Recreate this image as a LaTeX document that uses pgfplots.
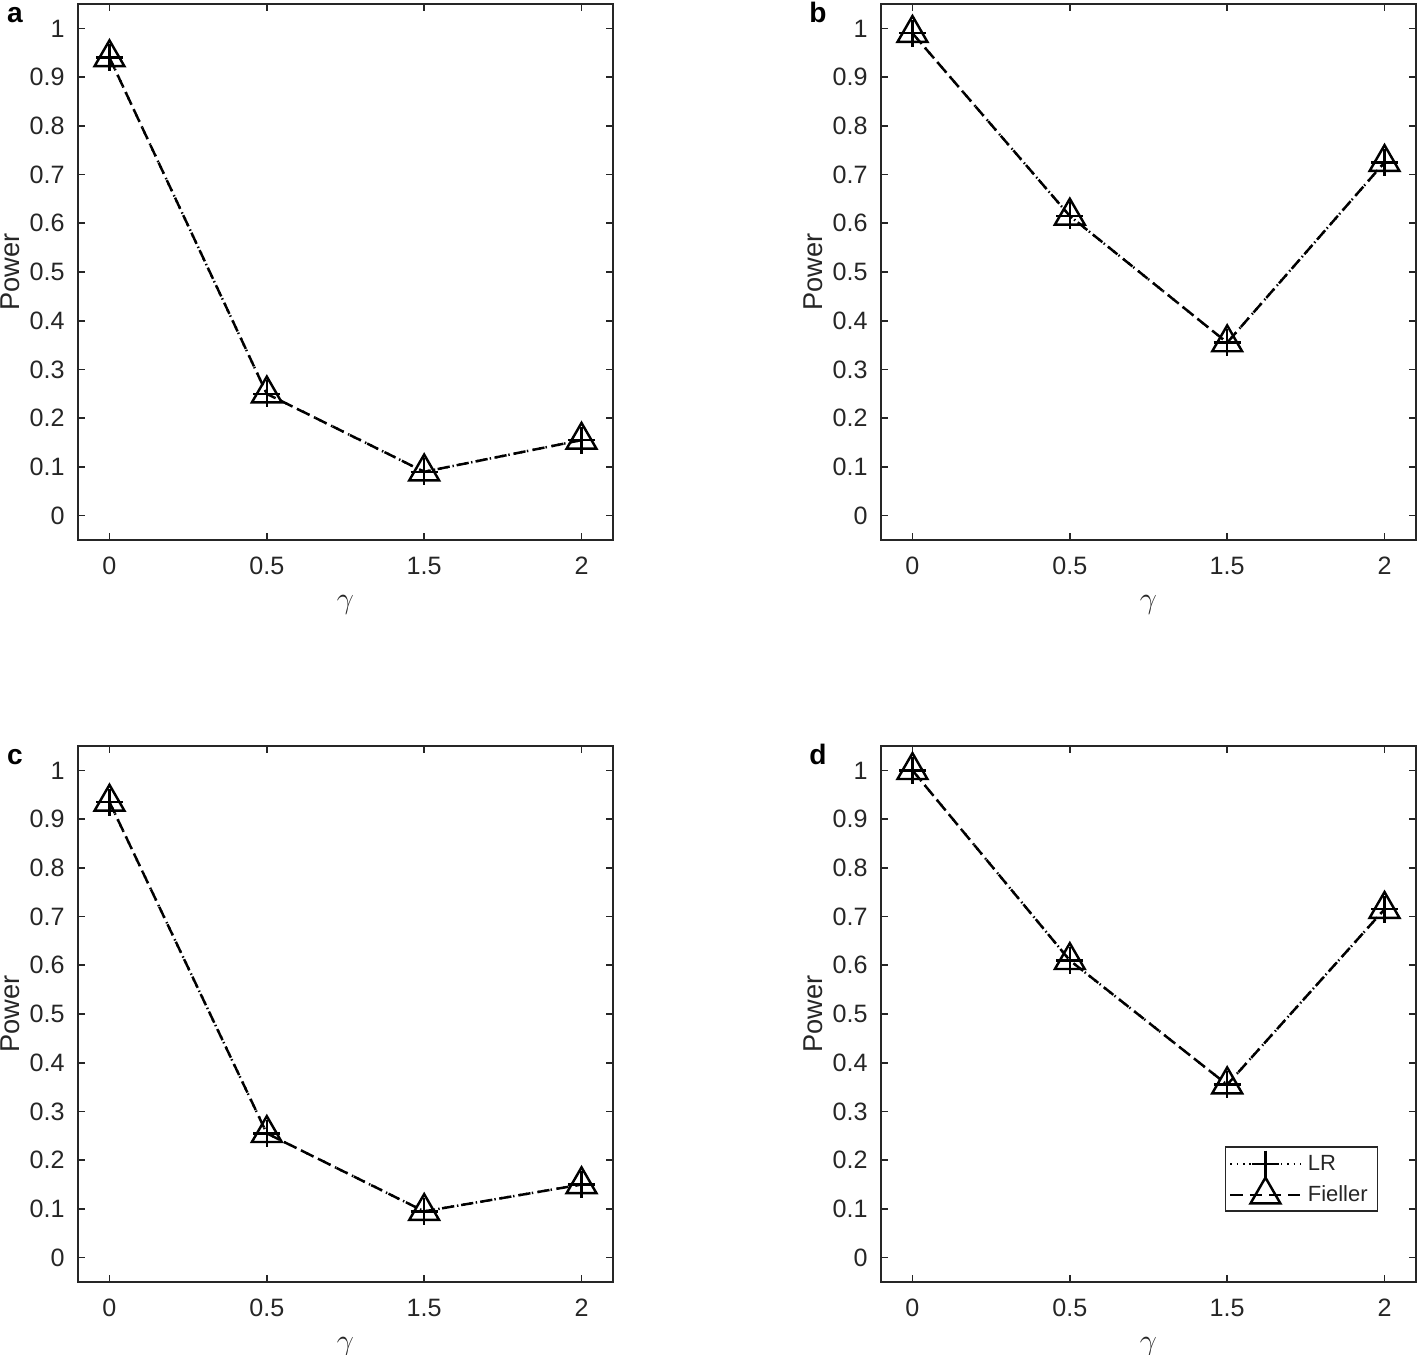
\documentclass[border=0pt]{standalone}
\usepackage{fontspec}
\setmainfont{Liberation Sans}
\usepackage{pgfplots}
\pgfplotsset{compat=1.18}
\definecolor{axgray}{rgb}{0.15,0.15,0.15}

% one MATLAB-like panel
\pgfplotsset{
  panel/.style={
    scale only axis, width=10.7cm, height=10.72cm,
    xmin=-0.2, xmax=3.2, ymin=-0.05, ymax=1.05,
    xtick={0,1,2,3}, xticklabels={0,0.5,1.5,2},
    ytick={0,0.1,0.2,0.3,0.4,0.5,0.6,0.7,0.8,0.9,1},
    tickpos=both, tick align=inside, major tick length=0.14cm,
    axis line style={axgray, line width=0.9pt},
    every tick/.style={axgray, line width=0.9pt},
    /pgf/number format/assume math mode=true,
    ticklabel style={font=\fontsize{14.3}{17}\selectfont, text=axgray},
    yticklabel style={inner sep=0pt, xshift=-0.26cm},
    xticklabel style={inner sep=0pt, yshift=-0.34cm},
    xlabel={$\gamma$}, ylabel={Power},
    xlabel style={at={(axis description cs:0.5,-0.121)}, anchor=center,
      font=\fontsize{16}{18}\selectfont, text=axgray},
    ylabel style={at={(axis description cs:-0.127,0.5)}, anchor=center,
      font=\fontsize{15.5}{18}\selectfont, text=axgray},
    clip=false,
  },
  lr/.style={black, line width=1.4pt, dash pattern=on 0.8pt off 2.8pt,
    mark=+, mark size=7.7pt, mark options={solid}},
  fieller/.style={black, line width=1.4pt, dash pattern=on 7pt off 4pt,
    mark=triangle, mark size=9.8pt, mark options={solid}},
}
\newcommand{\panellabel}[1]{\node[font=\bfseries\fontsize{16}{18}\selectfont, anchor=base, text=black]
  at (rel axis cs:-0.118,0.966) {#1};}

\begin{document}
\begin{tikzpicture}
\useasboundingbox (0,0) rectangle (28.36cm,-27.10cm);

% a
\begin{axis}[panel, at={(1.56cm,-0.08cm)}, anchor=north west]
\addplot[lr] coordinates {(0,0.94) (1,0.25) (2,0.09) (3,0.155)};
\addplot[fieller] coordinates {(0,0.94) (1,0.25) (2,0.09) (3,0.155)};
\panellabel{a}
\end{axis}

% b
\begin{axis}[panel, at={(17.62cm,-0.08cm)}, anchor=north west]
\addplot[lr] coordinates {(0,0.99) (1,0.615) (2,0.355) (3,0.725)};
\addplot[fieller] coordinates {(0,0.99) (1,0.615) (2,0.355) (3,0.725)};
\panellabel{b}
\end{axis}

% c
\begin{axis}[panel, at={(1.56cm,-14.92cm)}, anchor=north west]
\addplot[lr] coordinates {(0,0.935) (1,0.255) (2,0.095) (3,0.15)};
\addplot[fieller] coordinates {(0,0.935) (1,0.255) (2,0.095) (3,0.15)};
\panellabel{c}
\end{axis}

% d
\begin{axis}[panel, at={(17.62cm,-14.92cm)}, anchor=north west,
  legend style={at={(0.929,0.131)}, anchor=south east, draw=axgray, line width=0.8pt,
    font=\fontsize{12.5}{14}\selectfont, text=axgray, inner xsep=2pt, inner ysep=2pt,
    row sep=0pt, nodes={inner xsep=3.5pt}},
  legend cell align=left,
  legend image code/.code={\draw[mark repeat=2, mark phase=2]
    plot coordinates {(0cm,0cm) (0.7cm,0cm) (1.4cm,0cm)};}]
\addplot[lr] coordinates {(0,1.0) (1,0.61) (2,0.355) (3,0.715)};
\addplot[fieller] coordinates {(0,1.0) (1,0.61) (2,0.355) (3,0.715)};
\legend{LR,Fieller}
\panellabel{d}
\end{axis}
\end{tikzpicture}
\end{document}
